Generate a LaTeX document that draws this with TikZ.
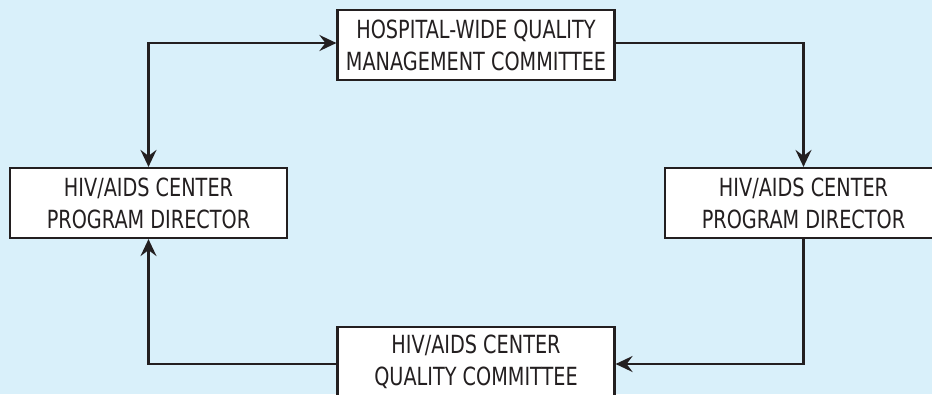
\documentclass[tikz,border=0pt]{standalone}
\usepackage{fontspec}
\newfontfamily\boxfont[FakeStretch=0.77]{DejaVu Sans}
\usetikzlibrary{calc,arrows.meta}
\definecolor{bgblue}{RGB}{217,240,250}
\definecolor{ink}{RGB}{35,31,32}

\begin{document}
\begin{tikzpicture}[x=1pt,y=1pt,
        unit/.style={draw=ink,line width=2.2pt,fill=white,minimum width=277pt,minimum height=70pt,inner sep=0pt,align=center,text=ink,font={\boxfont\fontsize{25}{32}\selectfont}},
        flow/.style={draw=ink,line width=2.2pt,-{Stealth[length=17pt,width=16pt,inset=6pt]}}]
            \fill[bgblue] (0,0) rectangle (932,-394);
            \useasboundingbox (0,0) rectangle (932,-394);

            \node[unit] (qmc) at (476,-45) {
                HOSPITAL-WIDE QUALITY \\
                MANAGEMENT COMMITTEE
            };
            \node[unit] (dirleft) at (148.5,-203) {
                HIV/AIDS CENTER \\
                PROGRAM DIRECTOR
            };
            \node[unit] (dirright) at (803.5,-203) {
                HIV/AIDS CENTER \\
                PROGRAM DIRECTOR
            };
            \node[unit] (qc) at (476,-362) {
                HIV/AIDS CENTER \\
                QUALITY COMMITTEE
            };

            \draw[flow,{Stealth[length=17pt,width=16pt,inset=6pt]}-{Stealth[length=17pt,width=16pt,inset=6pt]}]
                (dirleft.north) |- ($ (qmc.west) + (0,2) $);
            \draw[flow] ($ (qmc.east) + (0,2) $) -| (dirright.north);
            \draw[flow] (dirright.south) |- ($ (qc.east) + (0,-2) $);
            \draw[flow] ($ (qc.west) + (0,-2) $) -| (dirleft.south);
        \end{tikzpicture}
\end{document}
